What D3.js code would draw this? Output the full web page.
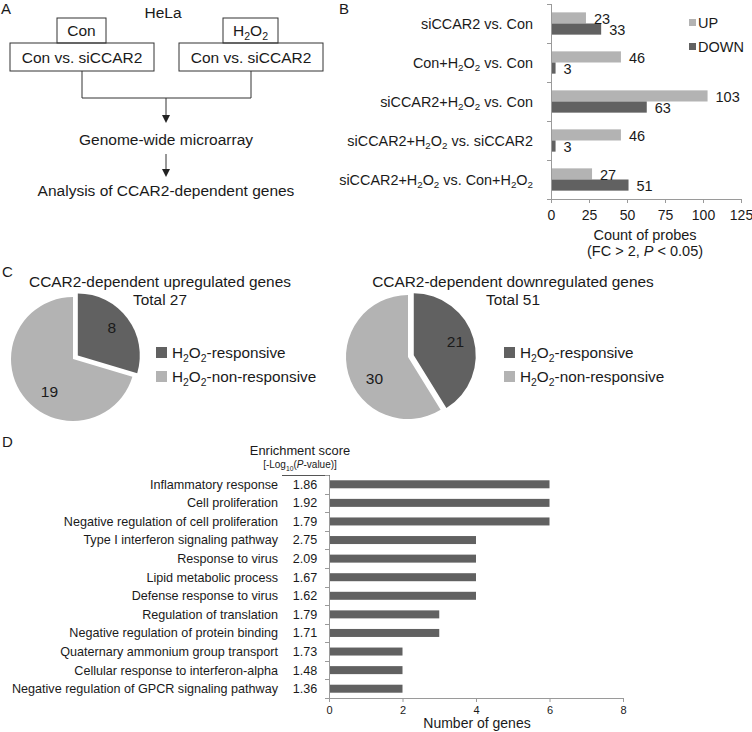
<!DOCTYPE html>
<html><head><meta charset="utf-8">
<script src="https://cdn.jsdelivr.net/npm/d3@7"></script>
<style>
body{margin:0;background:#fff;}
svg{display:block;font-family:"Liberation Sans",Arial,sans-serif;}
</style></head>
<body>
<script>
// ---------- DATA ----------
const bCategories = ["siCCAR2 vs. Con","Con+H_{2}O_{2} vs. Con","siCCAR2+H_{2}O_{2} vs. Con","siCCAR2+H_{2}O_{2} vs. siCCAR2","siCCAR2+H_{2}O_{2} vs. Con+H_{2}O_{2}"];
const bSeries = ["UP","DOWN"];
const bUp = [23,46,103,46,27];
const bDown = [33,3,63,3,51];
const bTicks = [0,25,50,75,100,125];

const cSlices = ["H_{2}O_{2}-responsive","H_{2}O_{2}-non-responsive"];
const cUpValues = [8,19];
const cDownValues = [21,30];
const cTitles = ["CCAR2-dependent upregulated genes","CCAR2-dependent downregulated genes"];
const cTotals = ["Total 27","Total 51"];

const dTerms = ["Inflammatory response","Cell proliferation","Negative regulation of cell proliferation","Type I interferon signaling pathway","Response to virus","Lipid metabolic process","Defense response to virus","Regulation of translation","Negative regulation of protein binding","Quaternary ammonium group transport","Cellular response to interferon-alpha","Negative regulation of GPCR signaling pathway"];
const dScores = ["1.86","1.92","1.79","2.75","2.09","1.67","1.62","1.79","1.71","1.73","1.48","1.36"];
const dGenes = [6,6,6,4,4,4,4,3,3,2,2,2];
const dTicks = [0,2,4,6,8];

// ---------- HELPERS ----------
const W=752,H=732;
const svg=d3.select("body").append("svg").attr("width",W).attr("height",H);
const TXT="#1a1a1a", AX="#9a9a9a", DARK="#616161", LIGHT="#b3b3b3";

function rich(sel, str, fs){
  const parts = str.split(/(_\{[^}]*\}|\*[^*]*\*)/).filter(s=>s.length);
  let shifted=false;
  parts.forEach(p=>{
    const t=sel.append("tspan");
    if(p.startsWith("_{")){
      t.text(p.slice(2,-1)).attr("font-size",fs*0.68).attr("dy",shifted?0:fs*0.25);
      shifted=true;
    } else {
      let s=p, it=false;
      if(p.startsWith("*")){s=p.slice(1,-1);it=true;}
      t.text(s).attr("font-size",fs);
      if(it) t.attr("font-style","italic");
      if(shifted){t.attr("dy",-fs*0.25);shifted=false;}
    }
  });
  return sel;
}
function label(x,y,str,fs,anchor,g){
  const t=(g||svg).append("text").attr("x",x).attr("y",y).attr("font-size",fs)
    .attr("text-anchor",anchor||"start").attr("fill",TXT);
  rich(t,str,fs);
  return t;
}

// ---------- PANEL LETTERS ----------
label(1,14,"A",15);
label(339,14,"B",15);
label(2,277,"C",15);
label(2,447,"D",15);

// ---------- PANEL A (flow diagram) ----------
const A=svg.append("g").attr("stroke","#333").attr("fill","none").attr("stroke-width",1);
label(163,18,"HeLa",15.5,"middle");
A.append("rect").attr("x",57).attr("y",18).attr("width",49).attr("height",25);
A.append("rect").attr("x",10).attr("y",43).attr("width",144).attr("height",28);
A.append("rect").attr("x",223).attr("y",18).attr("width",55).attr("height",25);
A.append("rect").attr("x",179).attr("y",43).attr("width",144).attr("height",28);
label(81.5,36,"Con",15.5,"middle");
label(250.5,36,"H_{2}O_{2}",15.5,"middle");
label(82,63,"Con vs. siCCAR2",15.5,"middle");
label(251,63,"Con vs. siCCAR2",15.5,"middle");
A.append("path").attr("d","M82,71V98H251V71");
A.append("path").attr("d","M166,98V116");
svg.append("path").attr("d","M162,115L170,115L166,123Z").attr("fill","#222");
label(166,145,"Genome-wide microarray",15.5,"middle");
A.append("path").attr("d","M166,154V170");
svg.append("path").attr("d","M162,169L170,169L166,177Z").attr("fill","#222");
label(166,196,"Analysis of CCAR2-dependent genes",15.5,"middle");

// ---------- PANEL B (grouped bars) ----------
const bx=d3.scaleLinear().domain([0,125]).range([551,741]);
const by=d3.scaleBand().domain(bCategories).range([4,199]);
const bsub=d3.scaleBand().domain(bSeries).range([0,by.bandwidth()]).paddingOuter(0.75);
const bColor=d3.scaleOrdinal().domain(bSeries).range([LIGHT,DARK]);
const bRows=bCategories.map((c,i)=>({cat:c,vals:[{s:"UP",v:bUp[i]},{s:"DOWN",v:bDown[i]}]}));
const B=svg.append("g");
const rowG=B.selectAll("g.row").data(bRows).join("g").attr("transform",d=>`translate(0,${by(d.cat)})`);
rowG.selectAll("rect").data(d=>d.vals).join("rect")
  .attr("x",bx(0)).attr("y",d=>bsub(d.s)).attr("height",bsub.bandwidth())
  .attr("width",d=>bx(d.v)-bx(0)).attr("fill",d=>bColor(d.s));
rowG.selectAll("text.val").data(d=>d.vals).join("text").attr("class","val")
  .attr("x",d=>bx(d.v)+8).attr("y",d=>bsub(d.s)+bsub.bandwidth()/2+1).attr("dy","0.35em")
  .attr("font-size",14.5).attr("fill",TXT).text(d=>d.v);
bCategories.forEach(c=>{
  label(533,by(c)+by.bandwidth()/2,c,14.4,"end").attr("dy","0.35em");
});
// axes
const bAxisB=B.append("g").attr("transform","translate(0,199)")
  .call(d3.axisBottom(bx).tickValues(bTicks).tickSize(4).tickPadding(7).tickSizeOuter(0));
bAxisB.selectAll("path,line").attr("stroke",AX);
bAxisB.selectAll("text").attr("font-size",14).attr("fill",TXT).attr("font-family","Liberation Sans, Arial");
B.append("line").attr("x1",bx(0)+0.5).attr("x2",bx(0)+0.5).attr("y1",4).attr("y2",199).attr("stroke",AX);
B.selectAll("line.yt").data(bCategories.map(c=>by(c)).concat([199])).join("line").attr("class","yt")
  .attr("x1",bx(0)-4).attr("x2",bx(0)).attr("y1",d=>Math.round(d)+0.5).attr("y2",d=>Math.round(d)+0.5).attr("stroke",AX);
label(645,240,"Count of probes",14.5,"middle");
label(645,256,"(FC > 2, *P* < 0.05)",14.5,"middle");
// legend
bSeries.forEach((s,i)=>{
  const cy=[23,47][i];
  B.append("rect").attr("x",689).attr("y",cy-4).attr("width",7).attr("height",7).attr("fill",bColor(s));
  label(698,cy,s,14.5).attr("dy","0.35em");
});

// ---------- PANEL C (pies) ----------
function pie(cx,cy,vals,title,total,legX,titleX){
  const g=svg.append("g").attr("transform",`translate(${cx},${cy})`);
  const r=62;
  const arcs=d3.pie().sort(null).startAngle(0).endAngle(2*Math.PI)(vals);
  const arc=d3.arc().innerRadius(0).outerRadius(r);
  const col=[DARK,LIGHT];
  arcs.forEach((a,i)=>{
    const mid=(a.startAngle+a.endAngle)/2;
    const off=i===0?6:0;
    const dx=Math.sin(mid)*off, dy=-Math.cos(mid)*off;
    g.append("path").attr("d",arc(a)).attr("fill",col[i]).attr("transform",`translate(${dx},${dy})`);
    const la=i===0?mid-0.05:mid-0.3;
    const lr=i===0?44:40;
    g.append("text").attr("x",dx+Math.sin(la)*lr).attr("y",dy-Math.cos(la)*lr).attr("dy","0.35em")
      .attr("text-anchor","middle").attr("font-size",15.5).attr("fill",TXT).text(a.data);
  });
  label(titleX,287,title,15.4,"middle");
  label(titleX,305,total,15.4,"middle");
  cSlices.forEach((s,i)=>{
    const yy=353+i*24;
    svg.append("rect").attr("x",legX).attr("y",yy-6).attr("width",11).attr("height",11).attr("fill",col[i]);
    label(legX+16,yy,s,15.3).attr("dy","0.35em");
  });
}
pie(73,359,cUpValues,cTitles[0],cTotals[0],156,160);
pie(408,357,cDownValues,cTitles[1],cTotals[1],504,513);

// ---------- PANEL D (enrichment bars) ----------
const dx=d3.scaleLinear().domain([0,8]).range([329,623]);
const dy=d3.scaleBand().domain(dTerms).range([475,698]);
const D=svg.append("g");
const bh=8;
D.selectAll("rect").data(dTerms).join("rect")
  .attr("x",dx(0)).attr("y",d=>dy(d)+dy.bandwidth()/2-bh/2).attr("height",bh)
  .attr("width",(d,i)=>dx(dGenes[i])-dx(0)).attr("fill",DARK);
dTerms.forEach((t,i)=>{
  label(278,dy(t)+dy.bandwidth()/2,t,12.6,"end").attr("dy","0.35em");
  label(305,dy(t)+dy.bandwidth()/2,dScores[i],12.6,"middle").attr("dy","0.35em");
});
const dAxis=D.append("g").attr("transform","translate(0,698)")
  .call(d3.axisBottom(dx).tickValues(dTicks).tickSize(4).tickPadding(4).tickSizeOuter(0));
dAxis.selectAll("path,line").attr("stroke",AX);
dAxis.selectAll("text").attr("font-size",11).attr("fill",TXT).attr("font-family","Liberation Sans, Arial");
D.append("line").attr("x1",dx(0)+0.5).attr("x2",dx(0)+0.5).attr("y1",475).attr("y2",698).attr("stroke",AX);
D.append("line").attr("x1",282).attr("x2",dx(0)+0.5).attr("y1",475.5).attr("y2",475.5).attr("stroke","#555");
D.selectAll("line.yt").data(dTerms.map(t=>dy(t)).concat([698])).join("line").attr("class","yt")
  .attr("x1",dx(0)-4).attr("x2",dx(0)).attr("y1",d=>Math.round(d)+0.5).attr("y2",d=>Math.round(d)+0.5).attr("stroke",AX);
label(300,455,"Enrichment score",12.9,"middle");
label(300,468,"[-Log_{10}(*P*-value)]",10,"middle");
label(477,728,"Number of genes",14,"middle");
</script>
</body></html>
